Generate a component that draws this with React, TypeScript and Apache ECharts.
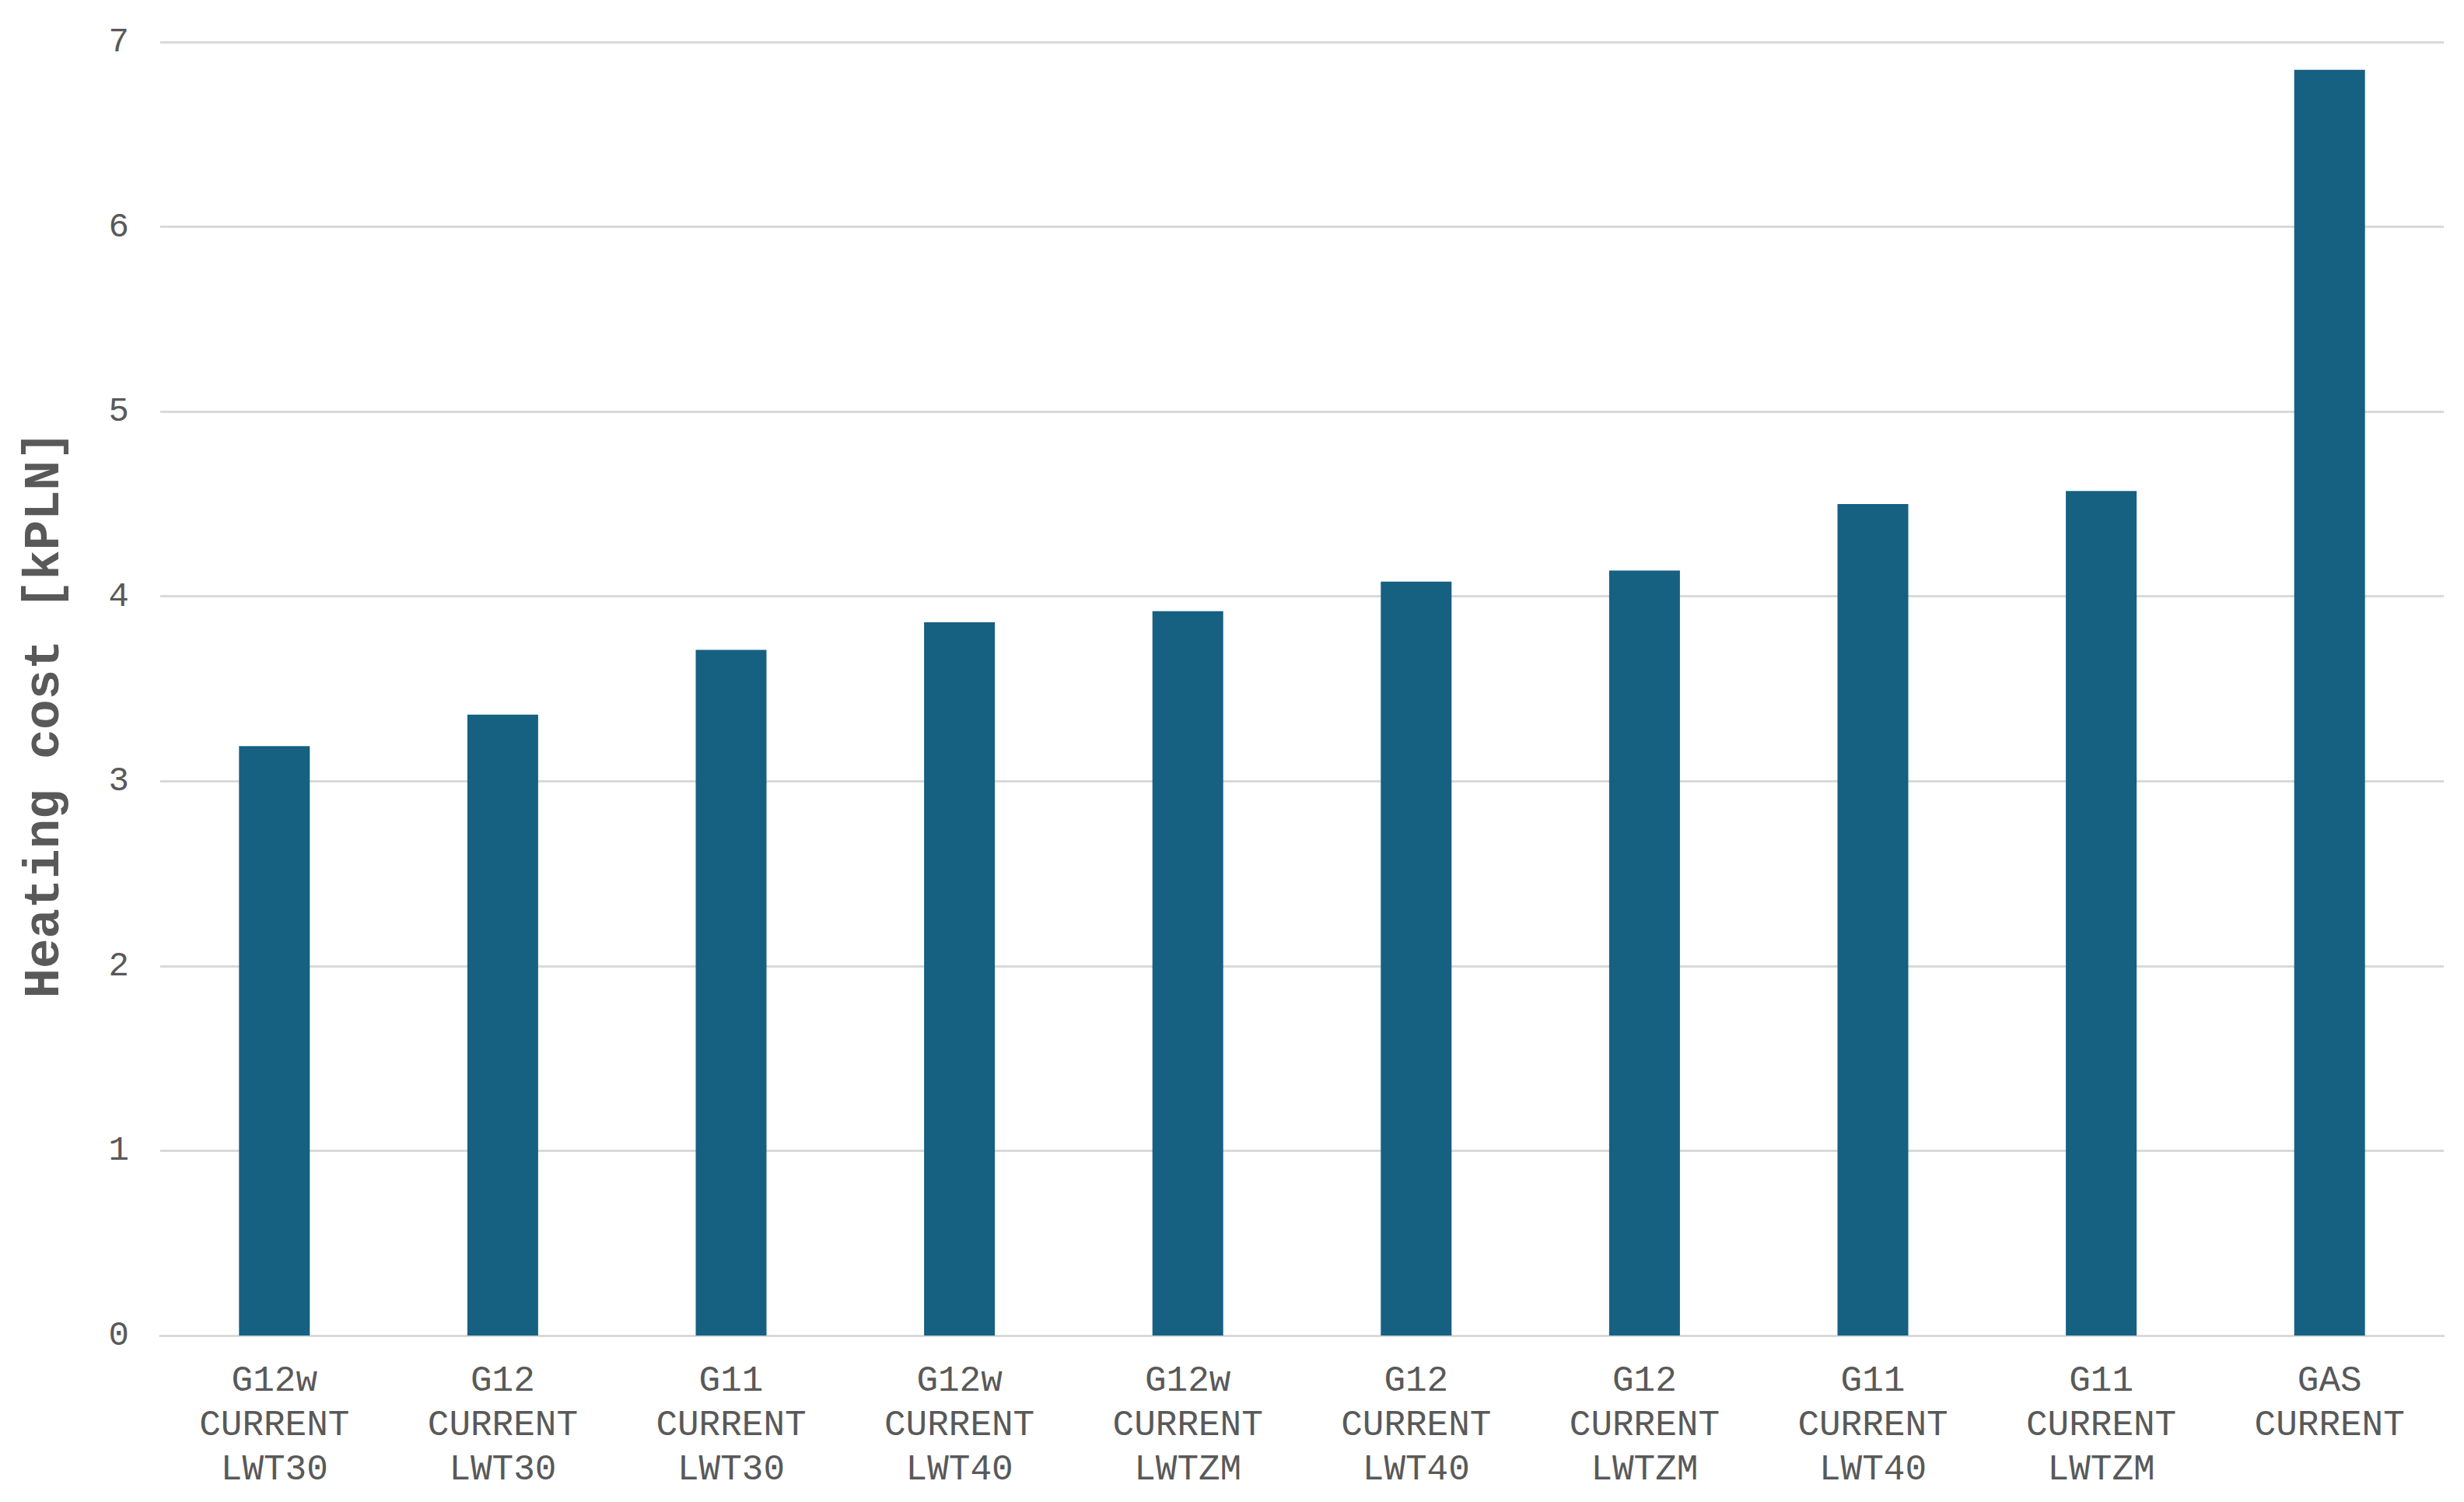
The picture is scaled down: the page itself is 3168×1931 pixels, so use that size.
import React, { useEffect, useRef } from "react";
import * as echarts from "echarts";

const tariffs = ["G12w", "G12", "G11", "G12w", "G12w", "G12", "G12", "G11", "G11", "GAS"];
const scenarios = ["CURRENT", "CURRENT", "CURRENT", "CURRENT", "CURRENT", "CURRENT", "CURRENT", "CURRENT", "CURRENT", "CURRENT"];
const lwts = ["LWT30", "LWT30", "LWT30", "LWT40", "LWTZM", "LWT40", "LWTZM", "LWT40", "LWTZM", ""];
const heatingCost = [3.19, 3.36, 3.71, 3.86, 3.92, 4.08, 4.14, 4.5, 4.57, 6.85];
const yTicks = [0, 1, 2, 3, 4, 5, 6, 7];

const categories = tariffs.map((t, i) => [t, scenarios[i], lwts[i]].filter((s) => s !== "").join("\n"));

const FONT = "'Courier New', 'Liberation Mono', monospace";
const TEXT = "#595959";

export default function App() {
  const ref = useRef<HTMLDivElement>(null);
  useEffect(() => {
    if (!ref.current) return;
    const chart = echarts.init(ref.current, null, { renderer: "svg" });
    chart.setOption({
      animation: false,
      backgroundColor: "#ffffff",
      grid: { left: 206, right: 26, top: 54, bottom: 214, containLabel: false },
      xAxis: {
        type: "category",
        data: categories,
        axisTick: { show: false },
        axisLine: { show: true, lineStyle: { color: "#d9d9d9", width: 3 } },
        axisLabel: {
          color: TEXT,
          fontFamily: FONT,
          fontSize: 46,
          lineHeight: 57,
          margin: 30,
          interval: 0,
        },
      },
      yAxis: {
        type: "value",
        min: yTicks[0],
        max: yTicks[yTicks.length - 1],
        interval: 1,
        name: "Heating cost [kPLN]",
        nameLocation: "middle",
        nameGap: 116,
        nameTextStyle: {
          color: TEXT,
          fontFamily: FONT,
          fontSize: 64,
          fontWeight: "bold",
          padding: [0, 66, 0, 0],
        },
        axisLine: { show: false },
        axisTick: { show: false },
        axisLabel: { color: TEXT, fontFamily: FONT, fontSize: 44, margin: 40 },
        splitLine: { lineStyle: { color: "#d9d9d9", width: 3 } },
      },
      series: [
        {
          type: "bar",
          data: heatingCost,
          barWidth: 91,
          itemStyle: { color: "#166082" },
        },
      ],
    });
    return () => chart.dispose();
  }, []);
  return <div ref={ref} style={{ position: "absolute", left: 0, top: 0, width: 3168, height: 1931 }} />;
}
